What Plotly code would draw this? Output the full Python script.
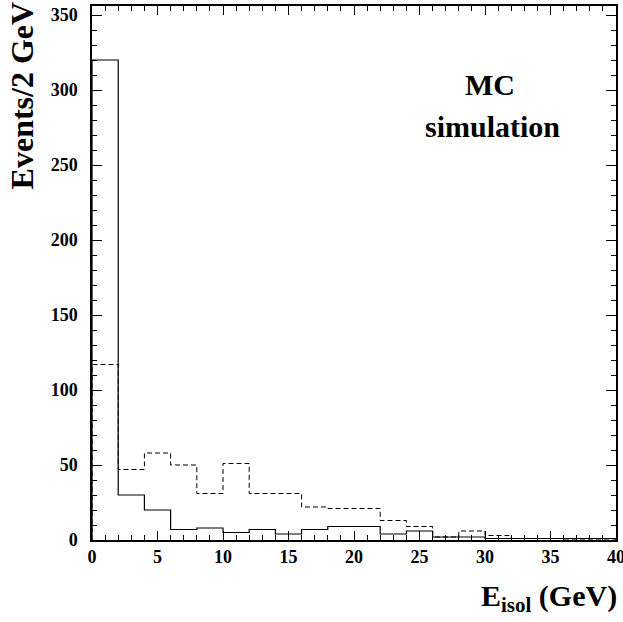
import plotly.graph_objects as go

# Bin edges (GeV) and contents (events / 2 GeV)
bin_edges = list(range(0, 42, 2))
solid_counts = [320, 30, 20, 7, 8, 5, 7, 4, 7, 9, 9, 4, 6, 2, 2, 1, 1, 1, 1, 1]
dashed_counts = [117, 47, 58, 50, 31, 51, 31, 31, 22, 21, 21, 13, 9, 2, 6, 3, 1, 1, 0, 0]

y_ticks = [0, 50, 100, 150, 200, 250, 300, 350]
x_ticks = [0, 5, 10, 15, 20, 25, 30, 35, 40]


def step_xy(edges, counts):
    xs = [edges[0]] + list(edges)
    ys = [0] + list(counts) + [0]
    return xs, ys


fig = go.Figure()

xs, ys = step_xy(bin_edges, dashed_counts)
fig.add_trace(go.Scatter(x=xs, y=ys, mode="lines", line_shape="hv",
                         line=dict(color="black", width=1, dash="5px,3px"),
                         showlegend=False, hoverinfo="skip", cliponaxis=False))
xs, ys = step_xy(bin_edges, solid_counts)
fig.add_trace(go.Scatter(x=xs, y=ys, mode="lines", line_shape="hv",
                         line=dict(color="black", width=1.2),
                         showlegend=False, hoverinfo="skip", cliponaxis=False))

font_main = "Liberation Serif, Times New Roman, serif"

fig.update_layout(
    width=623, height=622,
    margin=dict(l=92, r=7, t=6, b=82, autoexpand=False),
    paper_bgcolor="white", plot_bgcolor="white",
    font=dict(family=font_main, color="black"),
    xaxis=dict(range=[0, 40], tickvals=x_ticks, ticktext=[f"<b>{v}</b>" for v in x_ticks],
               ticks="inside", ticklen=9, tickwidth=1, tickcolor="black",
               minor=dict(dtick=1, ticklen=5, ticks="inside", tickcolor="black", tickwidth=1),
               showline=True, linecolor="black", linewidth=1.5, mirror="allticks",
               showgrid=False, zeroline=False, ticklabeloverflow="allow", automargin=False,
               tickfont=dict(family=font_main, size=18, color="black")),
    yaxis=dict(range=[0, 356], tickvals=y_ticks, ticktext=[f"<b>{v}</b>" for v in y_ticks],
               ticks="inside", ticklen=10, tickwidth=1, tickcolor="black",
               minor=dict(dtick=10, ticklen=5, ticks="inside", tickcolor="black", tickwidth=1),
               showline=True, linecolor="black", linewidth=1.5, mirror="allticks",
               showgrid=False, zeroline=False, ticklabelstandoff=9, ticklabeloverflow="allow",
               automargin=False,
               tickfont=dict(family=font_main, size=18, color="black")),
)

fig.add_annotation(xref="paper", yref="paper", x=-0.134, y=1.012, xanchor="center", yanchor="top",
                   text="<b>Events/2 GeV</b>", textangle=-90, showarrow=False,
                   font=dict(family=font_main, size=32, color="black"))
fig.add_annotation(xref="paper", yref="paper", x=1.006, y=-0.108, xanchor="right", yanchor="middle",
                   text="<b>E<sub>isol</sub> (GeV)</b>", showarrow=False,
                   font=dict(family=font_main, size=30, color="black"))
fig.add_annotation(xref="x", yref="y", x=30.4, y=304, xanchor="center", yanchor="middle",
                   text="<b>MC</b>", showarrow=False,
                   font=dict(family=font_main, size=30, color="black"))
fig.add_annotation(xref="x", yref="y", x=30.6, y=276, xanchor="center", yanchor="middle",
                   text="<b>simulation</b>", showarrow=False,
                   font=dict(family=font_main, size=30, color="black"))

fig.write_html("out.html", config={"displayModeBar": False},
               post_script="document.body.style.margin='0';")
